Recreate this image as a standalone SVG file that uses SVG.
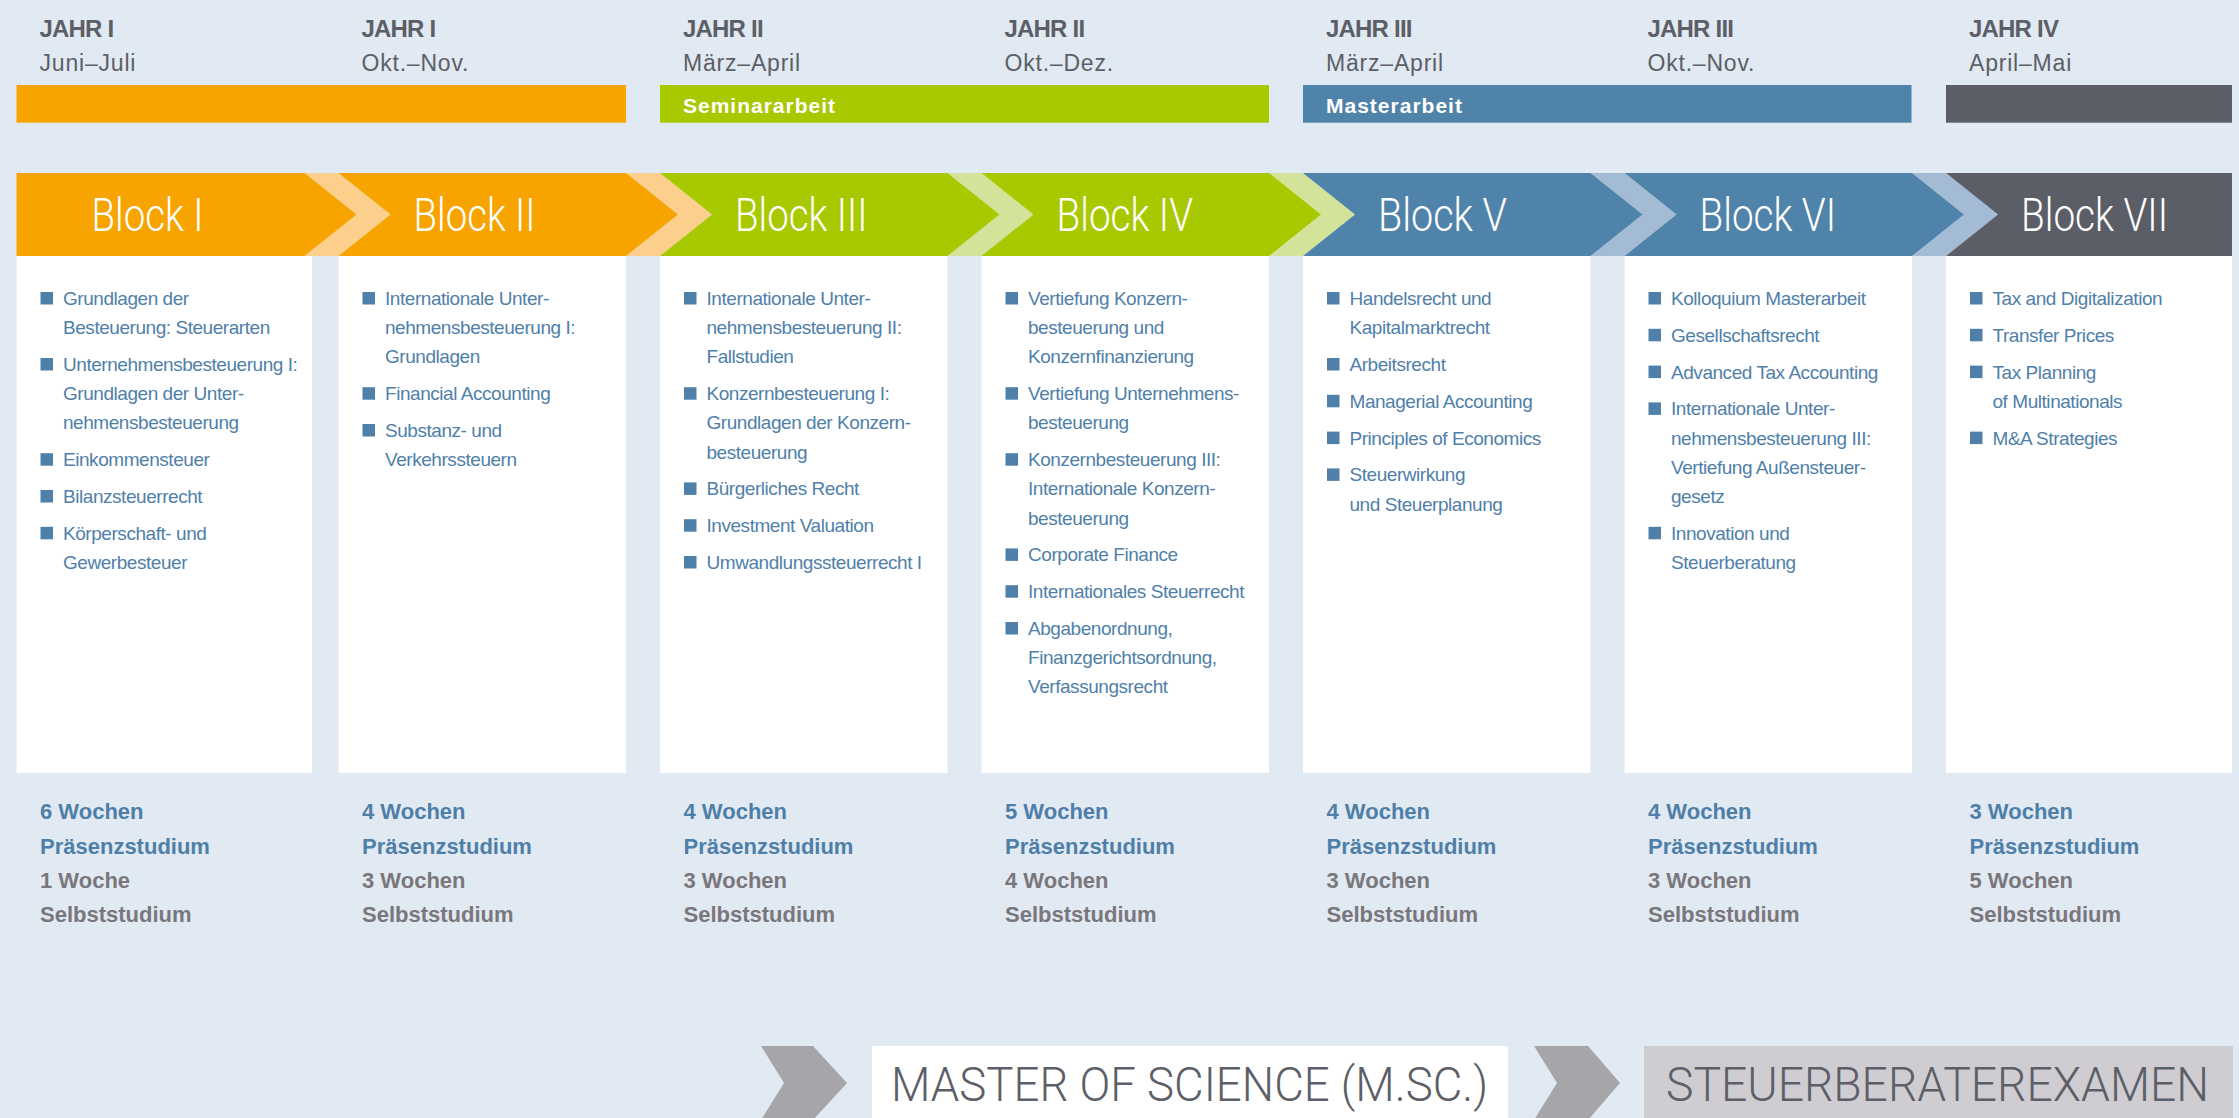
<svg xmlns="http://www.w3.org/2000/svg" width="2239" height="1118" viewBox="0 0 2239 1118">
<style>
.yr{font-family:"Liberation Sans",Arial,sans-serif;font-weight:700;font-size:24px;letter-spacing:-0.8px;fill:#5c5f67}
.mo{font-family:"Liberation Sans",Arial,sans-serif;font-size:23px;letter-spacing:0.8px;fill:#5c5f67}
.bar{font-family:"Liberation Sans",Arial,sans-serif;font-weight:700;font-size:21px;letter-spacing:1px;fill:#fff}
.bt{font-family:Roboto,"Liberation Sans",sans-serif;font-weight:300;font-size:47px;fill:#fff}
.li{font-family:"Liberation Sans",Arial,sans-serif;font-size:19px;letter-spacing:-0.45px;fill:#4f80a9}
.bu{fill:#4f80a9}
.card{fill:#fff}
.wb{font-family:"Liberation Sans",Arial,sans-serif;font-weight:700;font-size:22px;fill:#4e7fa8}
.wg{font-family:"Liberation Sans",Arial,sans-serif;font-weight:700;font-size:22px;fill:#79777c}
.big{font-family:Roboto,"Liberation Sans",sans-serif;font-weight:300;font-size:49px;fill:#5c5f67}
.or{fill:#f7a300}.gr{fill:#a8c800}.bl{fill:#5083aa}.dk{fill:#5b5e66}
.bor{fill:#fcd08c}.bgr{fill:#d4e39a}.bbl{fill:#a3bbd4}
.chev{fill:#a6a5a9}
</style>
<rect width="2239" height="1118" fill="#e1e9f2"/>

<g id="phases">
  <rect class="or" x="16.5" y="85" width="609.5" height="37.7"/>
  <rect class="gr" x="660" y="85" width="609" height="37.7"/>
  <text class="bar" x="683" y="113">Seminararbeit</text>
  <rect class="bl" x="1303" y="85" width="608.5" height="37.7"/>
  <text class="bar" x="1326" y="113">Masterarbeit</text>
  <rect class="dk" x="1946" y="85" width="286" height="37.7"/>
</g>

<g id="connectors">
  <polygon class="bor" points="304.5,173 338.5,173 390.5,214.5 338.5,256 304.5,256 356.5,214.5"/>
  <polygon class="bor" points="626,173 660,173 712,214.5 660,256 626,256 678,214.5"/>
  <polygon class="bgr" points="947.5,173 981.5,173 1033.5,214.5 981.5,256 947.5,256 999.5,214.5"/>
  <polygon class="bgr" points="1269,173 1303,173 1355,214.5 1303,256 1269,256 1321,214.5"/>
  <polygon class="bbl" points="1590.5,173 1624.5,173 1676.5,214.5 1624.5,256 1590.5,256 1642.5,214.5"/>
  <polygon class="bbl" points="1912,173 1946,173 1998,214.5 1946,256 1912,256 1964,214.5"/>
  <polygon class="chev" points="761,1046 813,1046 847,1083 813,1120 761,1120 784,1083"/>
  <polygon class="chev" points="1534,1046 1588,1046 1620,1083 1588,1120 1534,1120 1557,1083"/>
</g>

<g id="block1" transform="translate(16.5,0)">
  <text class="yr" x="23" y="36.7">JAHR I</text>
  <text class="mo" x="23" y="71">Juni–Juli</text>
  <polygon class="or" points="0,173 288,173 340,214.5 288,256 0,256"/>
  <text class="bt" x="75" y="231" textLength="112" lengthAdjust="spacingAndGlyphs">Block I</text>
  <rect class="card" x="0" y="256" width="295.5" height="517"/>
  <rect class="bu" x="24" y="292" width="12.5" height="12.5"/>
  <text class="li" x="46.5" y="305">Grundlagen der<tspan x="46.5" dy="29.2">Besteuerung: Steuerarten</tspan></text>
  <rect class="bu" x="24" y="358" width="12.5" height="12.5"/>
  <text class="li" x="46.5" y="371">Unternehmensbesteuerung I:<tspan x="46.5" dy="29.2">Grundlagen der Unter-</tspan><tspan x="46.5" dy="29.2">nehmensbesteuerung</tspan></text>
  <rect class="bu" x="24" y="453.2" width="12.5" height="12.5"/>
  <text class="li" x="46.5" y="466.2">Einkommensteuer</text>
  <rect class="bu" x="24" y="490" width="12.5" height="12.5"/>
  <text class="li" x="46.5" y="503">Bilanzsteuerrecht</text>
  <rect class="bu" x="24" y="526.8" width="12.5" height="12.5"/>
  <text class="li" x="46.5" y="539.8">Körperschaft- und<tspan x="46.5" dy="29.2">Gewerbesteuer</tspan></text>
  <text class="wb" x="23.5" y="819.3">6 Wochen</text>
  <text class="wb" x="23.5" y="853.5">Präsenzstudium</text>
  <text class="wg" x="23.5" y="887.7">1 Woche</text>
  <text class="wg" x="23.5" y="922">Selbststudium</text>
</g>

<g id="block2" transform="translate(338.5,0)">
  <text class="yr" x="23" y="36.7">JAHR I</text>
  <text class="mo" x="23" y="71">Okt.–Nov.</text>
  <polygon class="or" points="0,173 287.5,173 339.5,214.5 287.5,256 0,256 52,214.5"/>
  <text class="bt" x="75" y="231" textLength="122" lengthAdjust="spacingAndGlyphs">Block II</text>
  <rect class="card" x="0" y="256" width="287.5" height="517"/>
  <rect class="bu" x="24" y="292" width="12.5" height="12.5"/>
  <text class="li" x="46.5" y="305">Internationale Unter-<tspan x="46.5" dy="29.2">nehmensbesteuerung I:</tspan><tspan x="46.5" dy="29.2">Grundlagen</tspan></text>
  <rect class="bu" x="24" y="387.2" width="12.5" height="12.5"/>
  <text class="li" x="46.5" y="400.2">Financial Accounting</text>
  <rect class="bu" x="24" y="424" width="12.5" height="12.5"/>
  <text class="li" x="46.5" y="437">Substanz- und<tspan x="46.5" dy="29.2">Verkehrssteuern</tspan></text>
  <text class="wb" x="23.5" y="819.3">4 Wochen</text>
  <text class="wb" x="23.5" y="853.5">Präsenzstudium</text>
  <text class="wg" x="23.5" y="887.7">3 Wochen</text>
  <text class="wg" x="23.5" y="922">Selbststudium</text>
</g>

<g id="block3" transform="translate(660,0)">
  <text class="yr" x="23" y="36.7">JAHR II</text>
  <text class="mo" x="23" y="71">März–April</text>
  <polygon class="gr" points="0,173 287.5,173 339.5,214.5 287.5,256 0,256 52,214.5"/>
  <text class="bt" x="75" y="231" textLength="132.5" lengthAdjust="spacingAndGlyphs">Block III</text>
  <rect class="card" x="0" y="256" width="287.5" height="517"/>
  <rect class="bu" x="24" y="292" width="12.5" height="12.5"/>
  <text class="li" x="46.5" y="305">Internationale Unter-<tspan x="46.5" dy="29.2">nehmensbesteuerung II:</tspan><tspan x="46.5" dy="29.2">Fallstudien</tspan></text>
  <rect class="bu" x="24" y="387.2" width="12.5" height="12.5"/>
  <text class="li" x="46.5" y="400.2">Konzernbesteuerung I:<tspan x="46.5" dy="29.2">Grundlagen der Konzern-</tspan><tspan x="46.5" dy="29.2">besteuerung</tspan></text>
  <rect class="bu" x="24" y="482.4" width="12.5" height="12.5"/>
  <text class="li" x="46.5" y="495.4">Bürgerliches Recht</text>
  <rect class="bu" x="24" y="519.2" width="12.5" height="12.5"/>
  <text class="li" x="46.5" y="532.2">Investment Valuation</text>
  <rect class="bu" x="24" y="556" width="12.5" height="12.5"/>
  <text class="li" x="46.5" y="569">Umwandlungssteuerrecht I</text>
  <text class="wb" x="23.5" y="819.3">4 Wochen</text>
  <text class="wb" x="23.5" y="853.5">Präsenzstudium</text>
  <text class="wg" x="23.5" y="887.7">3 Wochen</text>
  <text class="wg" x="23.5" y="922">Selbststudium</text>
</g>

<g id="block4" transform="translate(981.5,0)">
  <text class="yr" x="23" y="36.7">JAHR II</text>
  <text class="mo" x="23" y="71">Okt.–Dez.</text>
  <polygon class="gr" points="0,173 287.5,173 339.5,214.5 287.5,256 0,256 52,214.5"/>
  <text class="bt" x="75" y="231" textLength="136.5" lengthAdjust="spacingAndGlyphs">Block IV</text>
  <rect class="card" x="0" y="256" width="287.5" height="517"/>
  <rect class="bu" x="24" y="292" width="12.5" height="12.5"/>
  <text class="li" x="46.5" y="305">Vertiefung Konzern-<tspan x="46.5" dy="29.2">besteuerung und</tspan><tspan x="46.5" dy="29.2">Konzernfinanzierung</tspan></text>
  <rect class="bu" x="24" y="387.2" width="12.5" height="12.5"/>
  <text class="li" x="46.5" y="400.2">Vertiefung Unternehmens-<tspan x="46.5" dy="29.2">besteuerung</tspan></text>
  <rect class="bu" x="24" y="453.2" width="12.5" height="12.5"/>
  <text class="li" x="46.5" y="466.2">Konzernbesteuerung III:<tspan x="46.5" dy="29.2">Internationale Konzern-</tspan><tspan x="46.5" dy="29.2">besteuerung</tspan></text>
  <rect class="bu" x="24" y="548.4" width="12.5" height="12.5"/>
  <text class="li" x="46.5" y="561.4">Corporate Finance</text>
  <rect class="bu" x="24" y="585.2" width="12.5" height="12.5"/>
  <text class="li" x="46.5" y="598.2">Internationales Steuerrecht</text>
  <rect class="bu" x="24" y="622" width="12.5" height="12.5"/>
  <text class="li" x="46.5" y="635">Abgabenordnung,<tspan x="46.5" dy="29.2">Finanzgerichtsordnung,</tspan><tspan x="46.5" dy="29.2">Verfassungsrecht</tspan></text>
  <text class="wb" x="23.5" y="819.3">5 Wochen</text>
  <text class="wb" x="23.5" y="853.5">Präsenzstudium</text>
  <text class="wg" x="23.5" y="887.7">4 Wochen</text>
  <text class="wg" x="23.5" y="922">Selbststudium</text>
</g>

<g id="block5" transform="translate(1303,0)">
  <text class="yr" x="23" y="36.7">JAHR III</text>
  <text class="mo" x="23" y="71">März–April</text>
  <polygon class="bl" points="0,173 287.5,173 339.5,214.5 287.5,256 0,256 52,214.5"/>
  <text class="bt" x="75" y="231" textLength="129" lengthAdjust="spacingAndGlyphs">Block V</text>
  <rect class="card" x="0" y="256" width="287.5" height="517"/>
  <rect class="bu" x="24" y="292" width="12.5" height="12.5"/>
  <text class="li" x="46.5" y="305">Handelsrecht und<tspan x="46.5" dy="29.2">Kapitalmarktrecht</tspan></text>
  <rect class="bu" x="24" y="358" width="12.5" height="12.5"/>
  <text class="li" x="46.5" y="371">Arbeitsrecht</text>
  <rect class="bu" x="24" y="394.8" width="12.5" height="12.5"/>
  <text class="li" x="46.5" y="407.8">Managerial Accounting</text>
  <rect class="bu" x="24" y="431.6" width="12.5" height="12.5"/>
  <text class="li" x="46.5" y="444.6">Principles of Economics</text>
  <rect class="bu" x="24" y="468.4" width="12.5" height="12.5"/>
  <text class="li" x="46.5" y="481.4">Steuerwirkung<tspan x="46.5" dy="29.2">und Steuerplanung</tspan></text>
  <text class="wb" x="23.5" y="819.3">4 Wochen</text>
  <text class="wb" x="23.5" y="853.5">Präsenzstudium</text>
  <text class="wg" x="23.5" y="887.7">3 Wochen</text>
  <text class="wg" x="23.5" y="922">Selbststudium</text>
</g>

<g id="block6" transform="translate(1624.5,0)">
  <text class="yr" x="23" y="36.7">JAHR III</text>
  <text class="mo" x="23" y="71">Okt.–Nov.</text>
  <polygon class="bl" points="0,173 287.5,173 339.5,214.5 287.5,256 0,256 52,214.5"/>
  <text class="bt" x="75" y="231" textLength="136.5" lengthAdjust="spacingAndGlyphs">Block VI</text>
  <rect class="card" x="0" y="256" width="287.5" height="517"/>
  <rect class="bu" x="24" y="292" width="12.5" height="12.5"/>
  <text class="li" x="46.5" y="305">Kolloquium Masterarbeit</text>
  <rect class="bu" x="24" y="328.8" width="12.5" height="12.5"/>
  <text class="li" x="46.5" y="341.8">Gesellschaftsrecht</text>
  <rect class="bu" x="24" y="365.6" width="12.5" height="12.5"/>
  <text class="li" x="46.5" y="378.6">Advanced Tax Accounting</text>
  <rect class="bu" x="24" y="402.4" width="12.5" height="12.5"/>
  <text class="li" x="46.5" y="415.4">Internationale Unter-<tspan x="46.5" dy="29.2">nehmensbesteuerung III:</tspan><tspan x="46.5" dy="29.2">Vertiefung Außensteuer-</tspan><tspan x="46.5" dy="29.2">gesetz</tspan></text>
  <rect class="bu" x="24" y="526.8" width="12.5" height="12.5"/>
  <text class="li" x="46.5" y="539.8">Innovation und<tspan x="46.5" dy="29.2">Steuerberatung</tspan></text>
  <text class="wb" x="23.5" y="819.3">4 Wochen</text>
  <text class="wb" x="23.5" y="853.5">Präsenzstudium</text>
  <text class="wg" x="23.5" y="887.7">3 Wochen</text>
  <text class="wg" x="23.5" y="922">Selbststudium</text>
</g>

<g id="block7" transform="translate(1946,0)">
  <text class="yr" x="23" y="36.7">JAHR IV</text>
  <text class="mo" x="23" y="71">April–Mai</text>
  <polygon class="dk" points="0,173 286,173 286,256 0,256 52,214.5"/>
  <text class="bt" x="75" y="231" textLength="147" lengthAdjust="spacingAndGlyphs">Block VII</text>
  <rect class="card" x="0" y="256" width="286" height="517"/>
  <rect class="bu" x="24" y="292" width="12.5" height="12.5"/>
  <text class="li" x="46.5" y="305">Tax and Digitalization</text>
  <rect class="bu" x="24" y="328.8" width="12.5" height="12.5"/>
  <text class="li" x="46.5" y="341.8">Transfer Prices</text>
  <rect class="bu" x="24" y="365.6" width="12.5" height="12.5"/>
  <text class="li" x="46.5" y="378.6">Tax Planning<tspan x="46.5" dy="29.2">of Multinationals</tspan></text>
  <rect class="bu" x="24" y="431.6" width="12.5" height="12.5"/>
  <text class="li" x="46.5" y="444.6">M&amp;A Strategies</text>
  <text class="wb" x="23.5" y="819.3">3 Wochen</text>
  <text class="wb" x="23.5" y="853.5">Präsenzstudium</text>
  <text class="wg" x="23.5" y="887.7">5 Wochen</text>
  <text class="wg" x="23.5" y="922">Selbststudium</text>
</g>

<g id="master">
  <rect x="872" y="1046" width="636" height="72" fill="#ffffff"/>
  <text class="big" x="891" y="1101" textLength="597" lengthAdjust="spacingAndGlyphs">MASTER OF SCIENCE (M.SC.)</text>
</g>
<g id="steuerberater">
  <rect x="1644" y="1046" width="589" height="72" fill="#cfcdd1"/>
  <text class="big" x="1666" y="1101" textLength="543" lengthAdjust="spacingAndGlyphs">STEUERBERATEREXAMEN</text>
</g>
</svg>
